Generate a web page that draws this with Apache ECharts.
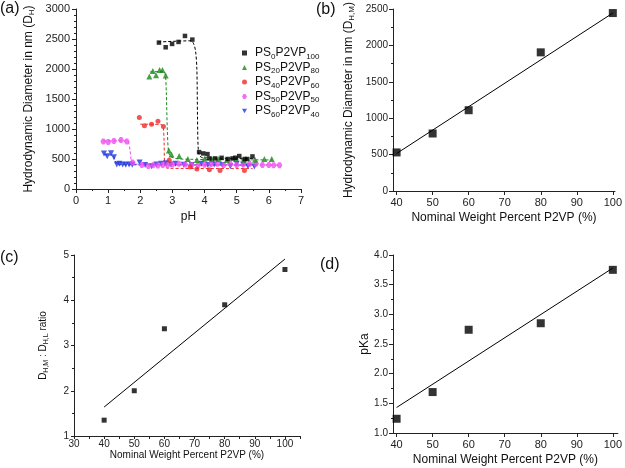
<!DOCTYPE html>
<html>
<head>
<meta charset="utf-8">
<script src="https://cdn.jsdelivr.net/npm/echarts@6/dist/echarts.min.js"></script>
<style>html,body{margin:0;padding:0;background:#fff}#c{width:625px;height:468px}</style>
</head>
<body>
<div id="c"></div>
<script>
// ---------- Panel (a): D_H vs pH ----------
const seriesNamesA = ['PS0P2VP100', 'PS20P2VP80', 'PS40P2VP60', 'PS50P2VP50', 'PS60P2VP40'];
const ps0 = [[2.58,2440],[2.79,2362],[2.99,2418],[3.19,2451],[3.39,2551],[3.62,2490],[3.83,615],[3.96,593],[4.09,582],[4.15,510],[4.33,510],[4.53,520],[4.72,500],[4.87,510],[4.96,521],[5.08,549],[5.25,500],[5.33,500],[5.49,543]];
const ps20 = [[2.28,1874],[2.39,1968],[2.49,1896],[2.60,1985],[2.69,1985],[2.79,1891],[2.89,643],[2.97,577],[3.21,549],[3.48,500],[3.76,482],[4.00,505],[4.23,500],[4.44,500],[4.69,482],[4.98,500],[5.22,488],[5.57,488],[5.86,500],[6.09,500]];
const ps40 = [[1.97,1192],[2.13,1054],[2.35,1081],[2.55,1131],[2.72,1043],[2.90,480],[3.55,366],[3.76,333],[4.15,322],[4.48,310],[5.24,310]];
const ps50 = [[0.85,793],[1.00,783],[1.18,800],[1.40,817],[1.58,790],[1.76,440],[2.05,400],[2.25,385],[2.40,395],[2.55,390],[2.70,400],[2.85,395],[3.00,410],[3.20,420],[3.40,410],[3.60,400],[3.80,400],[4.00,405],[4.20,415],[4.40,420],[4.60,400],[4.80,420],[5.00,400],[5.20,410],[5.40,420],[5.60,420],[5.80,400],[6.00,400],[6.15,395],[6.33,395]];
const ps60 = [[0.87,590],[0.97,545],[1.09,595],[1.18,530],[1.27,410],[1.35,420],[1.45,410],[1.55,405],[1.65,410],[1.75,405],[1.98,440],[2.15,400],[2.35,380],[2.50,410],[2.65,420],[2.80,430],[2.95,410],[3.10,420],[3.35,405],[3.60,400],[3.90,420],[4.10,400],[4.30,410],[4.55,400],[4.80,380],[5.00,420],[5.20,410],[5.35,380],[5.55,375]];
// dashed guide curves
const fit0 = [[2.56,2450],[3.58,2470],[3.66,2420],[3.72,2300],[3.76,2000],[3.78,1200],[3.80,700],[3.84,560],[3.95,520],[5.55,510]];
const fit20 = [[2.30,1950],[2.72,1960],[2.78,1900],[2.81,1600],[2.84,1000],[2.88,620],[2.95,540],[3.20,500],[6.10,485]];
const fit40 = [[2.00,1080],[2.65,1075],[2.71,1040],[2.74,800],[2.76,400],[2.85,345],[5.50,340]];
const fit50 = [[0.85,800],[1.55,805],[1.63,780],[1.68,650],[1.72,480],[1.78,415],[6.35,400]];
const fit60 = [[0.87,570],[1.12,565],[1.20,500],[1.26,420],[1.35,405],[5.55,400]];

// ---------- Panel (b): D_H,M vs wt% ----------
const wtPct = [40, 50, 60, 80, 100];
const dhm = [530, 790, 1110, 1905, 2445];
const fitB = [[40, 515], [100, 2445]];
// ---------- Panel (c): ratio ----------
const ratio = [1.35, 2.0, 3.37, 3.90, 4.68];
const fitC = [[40, 1.64], [100, 4.91]];
// ---------- Panel (d): pKa ----------
const pka = [1.24, 1.69, 2.74, 2.85, 3.75];
const fitD = [[40, 1.43], [100, 3.78]];

const xTicksPct = [40, 50, 60, 70, 80, 90, 100];
const colorsA = ['#000000', '#1a8a1a', '#ee2a2a', '#f04cf0', '#1f35e0'];
const FONT = 'Liberation Sans, Arial, sans-serif';
const AX = '#222';

const downTri = 'path://M0,0 L10,0 L5,9 Z';
const hexa = 'path://M3,0 L7,0 L10,5 L7,10 L3,10 L0,5 Z';
const symbolsA = ['rect', 'triangle', 'circle', hexa, downTri];
const sizesA = [4.5, 6, 5, 6, 6];

const subRich = {
  s: { fontSize: 8, padding: [7, 0, 0, 0], fontFamily: FONT, color: '#111' }
};
const plain = v => String(v);
function baseAxis(extra) {
  return Object.assign({
    axisLine: { show: true, lineStyle: { color: AX, width: 1 } },
    axisTick: { show: true, length: 4, lineStyle: { color: AX } },
    splitLine: { show: false },
    axisLabel: { color: '#222', fontFamily: FONT, fontSize: 11 },
    nameTextStyle: { color: '#111', fontFamily: FONT, fontSize: 12, rich: subRich }
  }, extra);
}

const dataA = [ps0, ps20, ps40, ps50, ps60];
const fitsA = [fit0, fit20, fit40, fit50, fit60];

const series = [];
fitsA.forEach((f, i) => {
  series.push({
    type: 'line', xAxisIndex: 0, yAxisIndex: 0, data: f, showSymbol: false, smooth: 0.3,
    lineStyle: { color: colorsA[i], width: 1, type: [3, 2] }, silent: true, z: 1
  });
});
for (let i = dataA.length - 1; i >= 0; i--) {
  series.push({
    type: 'scatter', name: seriesNamesA[i], xAxisIndex: 0, yAxisIndex: 0, data: dataA[i],
    symbol: symbolsA[i], symbolSize: sizesA[i], itemStyle: { color: colorsA[i] }, z: 3
  });
}
series.push({ type: 'line', xAxisIndex: 1, yAxisIndex: 1, data: fitB, showSymbol: false, lineStyle: { color: '#000', width: 1 }, z: 1 });
series.push({ type: 'scatter', xAxisIndex: 1, yAxisIndex: 1, data: wtPct.map((w, i) => [w, dhm[i]]), symbol: 'rect', symbolSize: 8, itemStyle: { color: '#000' } });
series.push({ type: 'line', xAxisIndex: 2, yAxisIndex: 2, data: fitC, showSymbol: false, lineStyle: { color: '#000', width: 1 }, z: 1 });
series.push({ type: 'scatter', xAxisIndex: 2, yAxisIndex: 2, data: wtPct.map((w, i) => [w, ratio[i]]), symbol: 'rect', symbolSize: 5, itemStyle: { color: '#000' } });
series.push({ type: 'line', xAxisIndex: 3, yAxisIndex: 3, data: fitD, showSymbol: false, lineStyle: { color: '#000', width: 1 }, z: 1 });
series.push({ type: 'scatter', xAxisIndex: 3, yAxisIndex: 3, data: wtPct.map((w, i) => [w, pka[i]]), symbol: 'rect', symbolSize: 8, itemStyle: { color: '#000' } });

const legendRich = {
  n: { fontSize: 12, fontFamily: FONT, color: '#111' },
  s: { fontSize: 8, padding: [7, 0, 0, 0], fontFamily: FONT, color: '#111' }
};
function legendFmt(name) {
  const m = name.match(/^PS(\d+)P2VP(\d+)$/);
  return '{n|PS}{s|' + m[1] + '}{n|P2VP}{s|' + m[2] + '}';
}

const option = {
  animation: false,
  backgroundColor: '#fff',
  textStyle: { fontFamily: FONT },
  grid: [
    { left: 76, top: 9, width: 225, height: 180 },
    { left: 393, top: 9, width: 225, height: 182 },
    { left: 74, top: 255, width: 226, height: 181 },
    { left: 393, top: 255, width: 225, height: 178 }
  ],
  legend: {
    data: seriesNamesA, orient: 'vertical', left: 237, top: 42, itemGap: 1,
    itemWidth: 5, itemHeight: 5, formatter: legendFmt,
    textStyle: { rich: legendRich, fontFamily: FONT, fontSize: 12, padding: [0, 0, 0, 3] }
  },
  xAxis: [
    baseAxis({ gridIndex: 0, type: 'value', min: 0, max: 7, interval: 1, name: 'pH', nameLocation: 'middle', nameGap: 22,
      minorTick: { show: true, splitNumber: 2, length: 2, lineStyle: { color: AX } }, axisLabel: { color: '#222', fontFamily: FONT, fontSize: 11, margin: 6, formatter: plain } }),
    baseAxis({ gridIndex: 1, type: 'value', min: 39, max: 100.6, name: 'Nominal Weight Percent P2VP (%)', nameLocation: 'middle', nameGap: 21,
      axisTick: { show: true, length: 4, lineStyle: { color: AX }, customValues: xTicksPct },
      axisLabel: { color: '#222', fontFamily: FONT, fontSize: 11, margin: 6, customValues: xTicksPct, formatter: plain } }),
    baseAxis({ gridIndex: 2, type: 'value', min: 30, max: 105, interval: 5, name: 'Nominal Weight Percent P2VP (%)', nameLocation: 'middle', nameGap: 14,
      nameTextStyle: { color: '#111', fontFamily: FONT, fontSize: 10 },
      axisTick: { show: true, length: 3, lineStyle: { color: AX } },
      axisLabel: { color: '#222', fontFamily: FONT, fontSize: 10, margin: 3, formatter: v => (v % 10 === 0 && v <= 100) ? String(v) : '' } }),
    baseAxis({ gridIndex: 3, type: 'value', min: 39, max: 101.4, name: 'Nominal Weight Percent P2VP (%)', nameLocation: 'middle', nameGap: 21,
      axisTick: { show: true, length: 4, lineStyle: { color: AX }, customValues: xTicksPct },
      axisLabel: { color: '#222', fontFamily: FONT, fontSize: 11, margin: 6, customValues: xTicksPct, formatter: plain } })
  ],
  yAxis: [
    baseAxis({ gridIndex: 0, type: 'value', min: 0, max: 3000, interval: 500, name: 'Hydrodynamic Diameter in nm (D{s|H})', nameLocation: 'middle', nameGap: 40,
      minorTick: { show: true, splitNumber: 5, length: 2, lineStyle: { color: AX } }, axisLabel: { color: '#222', fontFamily: FONT, fontSize: 11, margin: 6, formatter: plain } }),
    baseAxis({ gridIndex: 1, type: 'value', min: 0, max: 2500, interval: 500, name: 'Hydrodynamic Diameter in nm (D{s|H,M})', nameLocation: 'middle', nameGap: 37,
      minorTick: { show: true, splitNumber: 2, length: 2, lineStyle: { color: AX } }, axisLabel: { color: '#222', fontFamily: FONT, fontSize: 10, margin: 5, formatter: plain } }),
    baseAxis({ gridIndex: 2, type: 'value', min: 1, max: 5, interval: 1, name: 'D{s|H,M} : D{s|H,L} ratio', nameLocation: 'middle', nameGap: 24,
      nameTextStyle: { color: '#111', fontFamily: FONT, fontSize: 10, rich: { s: { fontSize: 7, padding: [6, 0, 0, 0], fontFamily: FONT, color: '#111' } } },
      minorTick: { show: true, splitNumber: 2, length: 2, lineStyle: { color: AX } },
      axisTick: { show: true, length: 3, lineStyle: { color: AX } },
      axisLabel: { color: '#222', fontFamily: FONT, fontSize: 10, margin: 5, formatter: plain } }),
    baseAxis({ gridIndex: 3, type: 'value', min: 1, max: 4, interval: 0.5, name: 'pKa', nameLocation: 'middle', nameGap: 15,
      minorTick: { show: true, splitNumber: 2, length: 2, lineStyle: { color: AX } },
      axisLabel: { color: '#222', fontFamily: FONT, fontSize: 10, margin: 5, formatter: v => v.toFixed(1) } })
  ],
  graphic: [
    { type: 'text', left: 0, top: 1, style: { text: '(a)', font: '16px ' + FONT, fill: '#111' } },
    { type: 'text', left: 316, top: 2, style: { text: '(b)', font: '16px ' + FONT, fill: '#111' } },
    { type: 'text', left: 0, top: 250, style: { text: '(c)', font: '16px ' + FONT, fill: '#111' } },
    { type: 'text', left: 320, top: 257, style: { text: '(d)', font: '16px ' + FONT, fill: '#111' } }
  ],
  series: series
};

const chart = echarts.init(document.getElementById('c'), null, { renderer: 'canvas' });
chart.setOption(option);
</script>
</body>
</html>
